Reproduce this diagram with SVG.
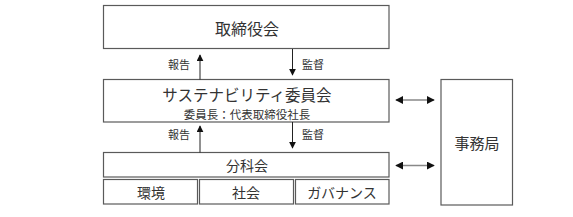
<svg xmlns="http://www.w3.org/2000/svg" width="573" height="217" viewBox="0 0 573 217">
<style>
.box{fill:#fff;stroke:#5a5a5a;stroke-width:1.2}
.t{font-family:"Noto Sans CJK JP","Noto Sans",sans-serif;fill:#333;text-anchor:middle;dominant-baseline:central}
.ln{stroke:#222;stroke-width:1;fill:none}
.gl{stroke:#888;stroke-width:1.5;fill:none}
</style>
<defs>
<marker id="ah" viewBox="0 0 10 10" refX="9" refY="5" markerWidth="7" markerHeight="7" markerUnits="userSpaceOnUse" orient="auto-start-reverse">
<path d="M0,0 L10,5 L0,10 z" fill="#111"/>
</marker>
<marker id="ah2" viewBox="0 0 10 10" refX="9" refY="5" markerWidth="8" markerHeight="8" markerUnits="userSpaceOnUse" orient="auto-start-reverse">
<path d="M0,0 L10,5 L0,10 z" fill="#111"/>
</marker>
</defs>
<rect width="573" height="217" fill="#fff"/>
<g id="board">
<rect class="box" x="103.5" y="5.5" width="285.5" height="43"/>
<text class="t" x="247" y="28" font-size="16">取締役会</text>
</g>
<g id="committee">
<rect class="box" x="103.5" y="79.5" width="285.5" height="42.5"/>
<text class="t" x="247" y="94" font-size="15.5">サステナビリティ委員会</text>
<text class="t" x="247" y="113.5" font-size="11.5">委員長：代表取締役社長</text>
</g>
<g id="subcommittee">
<rect class="box" x="103.5" y="152.5" width="285.5" height="24.5"/>
<text class="t" x="247" y="165" font-size="14">分科会</text>
</g>
<g id="env">
<rect class="box" x="103.5" y="179.5" width="94" height="24.5"/>
<text class="t" x="151" y="192" font-size="14">環境</text>
</g>
<g id="social">
<rect class="box" x="199.5" y="179.5" width="94" height="24.5"/>
<text class="t" x="246" y="192" font-size="14">社会</text>
</g>
<g id="gov">
<rect class="box" x="295.5" y="179.5" width="93.5" height="24.5"/>
<text class="t" x="342" y="192" font-size="14">ガバナンス</text>
</g>
<g id="secretariat">
<rect class="box" x="441" y="79.5" width="71.5" height="125.5"/>
<text class="t" x="477" y="142" font-size="15">事務局</text>
</g>
<g id="connectors">
<line class="ln" x1="200" y1="79.5" x2="200" y2="55" marker-end="url(#ah)"/>
<line class="ln" x1="292.5" y1="49" x2="292.5" y2="75" marker-end="url(#ah)"/>
<line class="ln" x1="200" y1="152.5" x2="200" y2="126" marker-end="url(#ah)"/>
<line class="ln" x1="292.5" y1="122" x2="292.5" y2="148" marker-end="url(#ah)"/>
<line class="gl" x1="396" y1="100" x2="434" y2="100" marker-start="url(#ah2)" marker-end="url(#ah2)"/>
<line class="gl" x1="396" y1="165.5" x2="434" y2="165.5" marker-start="url(#ah2)" marker-end="url(#ah2)"/>
<text class="t" x="179" y="64" font-size="11">報告</text>
<text class="t" x="313" y="64" font-size="11">監督</text>
<text class="t" x="179" y="134" font-size="11">報告</text>
<text class="t" x="313" y="134" font-size="11">監督</text>
</g>
</svg>
